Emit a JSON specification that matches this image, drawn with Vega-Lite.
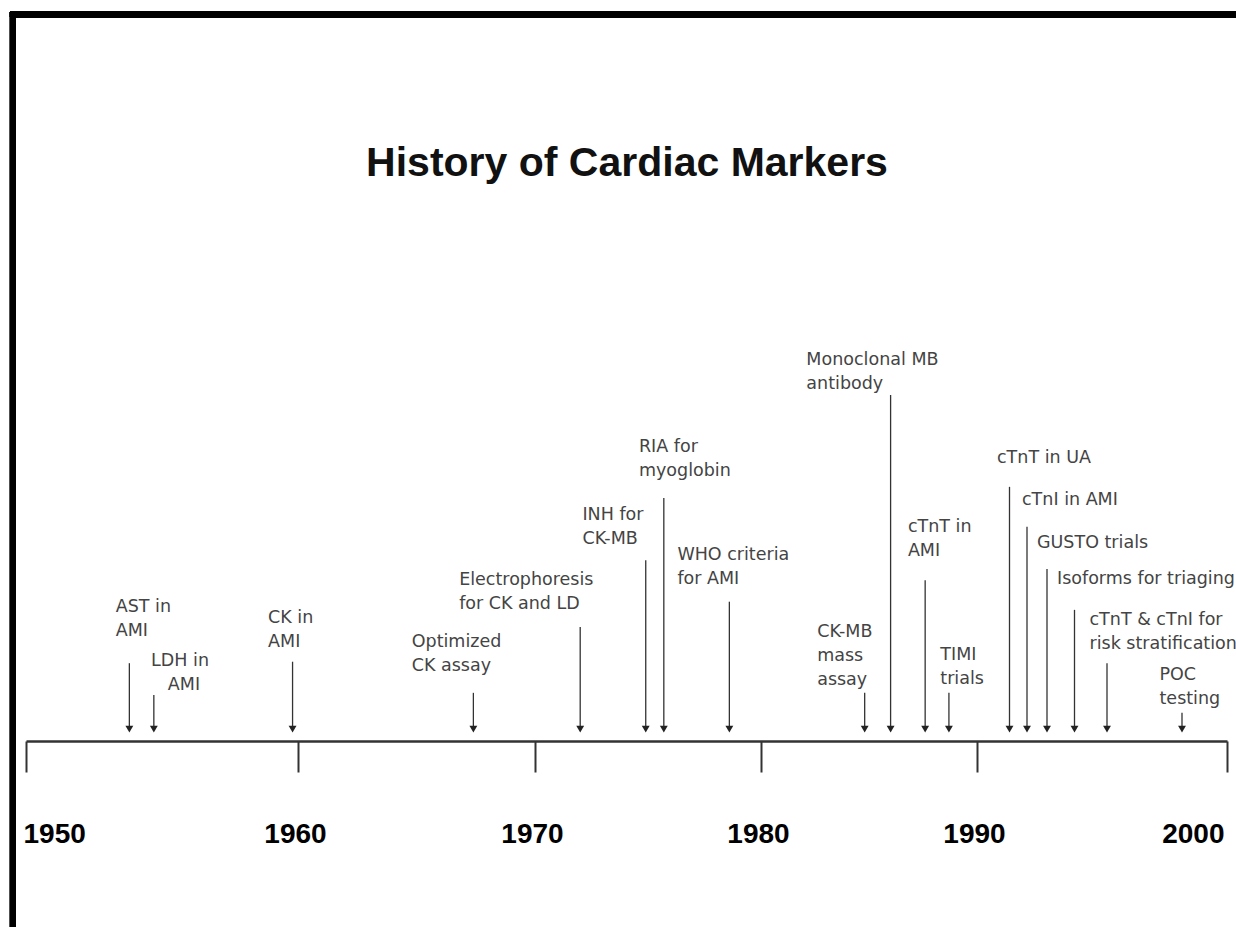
{
  "$schema": "https://vega.github.io/schema/vega-lite/v6.json",
  "width": 1236,
  "height": 741,
  "autosize": {"type": "none"},
  "padding": {"left": 0, "top": 0, "right": 0, "bottom": 186},
  "background": "white",
  "config": {
    "view": {"stroke": null},
    "axisX": {
      "grid": false,
      "title": null,
      "domainColor": "#333333",
      "domainWidth": 2.5,
      "tickColor": "#333333",
      "tickWidth": 2,
      "tickSize": 31,
      "labelFont": "Liberation Sans",
      "labelFontSize": 28,
      "labelFontWeight": "bold",
      "labelColor": "#000000",
      "labelPadding": 48,
      "labelFlush": true,
      "labelOffset": -3,
      "labelOverlap": false,
      "labelBound": false
    }
  },
  "title": {
    "text": "History of Cardiac Markers",
    "font": "Liberation Sans",
    "fontSize": 41,
    "fontWeight": "bold",
    "color": "#111111",
    "anchor": "middle",
    "baseline": "alphabetic",
    "offset": -217,
    "dx": 9
  },
  "data": {
    "values": [
      {"event": "AST in\nAMI", "year": 1953.8, "top": 10.5, "lx": 1953.3, "ly": 17.4},
      {"event": "LDH in\n\u200d\u00a0\u00a0\u00a0AMI", "year": 1954.7, "top": 6.2, "lx": 1954.6, "ly": 10.1},
      {"event": "CK in\nAMI", "year": 1959.8, "top": 10.7, "lx": 1958.9, "ly": 15.9},
      {"event": "Optimized\nCK assay", "year": 1967.4, "top": 6.5, "lx": 1964.8, "ly": 12.7},
      {"event": "Electrophoresis\nfor CK and LD", "year": 1972.0, "top": 15.4, "lx": 1966.8, "ly": 21.1},
      {"event": "INH for\nCK-MB", "year": 1974.9, "top": 24.4, "lx": 1972.1, "ly": 29.8},
      {"event": "RIA for\nmyoglobin", "year": 1975.7, "top": 32.8, "lx": 1974.6, "ly": 39.0},
      {"event": "WHO criteria\nfor AMI", "year": 1978.6, "top": 18.8, "lx": 1976.3, "ly": 24.4},
      {"event": "CK-MB\nmass\nassay", "year": 1984.8, "top": 6.5, "lx": 1982.6, "ly": 14.0},
      {"event": "Monoclonal MB\nantibody", "year": 1986.0, "top": 46.7, "lx": 1982.1, "ly": 50.7},
      {"event": "cTnT in\nAMI", "year": 1987.6, "top": 21.7, "lx": 1986.8, "ly": 28.2},
      {"event": "TIMI\ntrials", "year": 1988.7, "top": 6.5, "lx": 1988.3, "ly": 10.9},
      {"event": "cTnT in UA", "year": 1991.3, "top": 34.3, "lx": 1990.8, "ly": 37.5},
      {"event": "cTnI in AMI", "year": 1992.0, "top": 28.9, "lx": 1991.8, "ly": 31.8},
      {"event": "GUSTO trials", "year": 1992.8, "top": 23.2, "lx": 1992.4, "ly": 26.0},
      {"event": "Isoforms for triaging", "year": 1993.9, "top": 17.7, "lx": 1993.2, "ly": 21.2},
      {"event": "cTnT & cTnI for\nrisk stratification", "year": 1995.2, "top": 10.5, "lx": 1994.5, "ly": 15.7},
      {"event": "POC\ntesting", "year": 1998.2, "top": 3.8, "lx": 1997.3, "ly": 8.2}
    ]
  },
  "layer": [
    {
      "mark": {"type": "rule", "color": "#333333", "strokeWidth": 1.3},
      "encoding": {
        "x": {"field": "year", "type": "quantitative",
              "scale": {"type": "linear", "domain": [1950, 1960, 1970, 1980, 1990, 2000], "range": [26, 298, 535, 761, 977, 1227], "nice": false, "zero": false},
              "axis": {"values": [1950, 1960, 1970, 1980, 1990, 2000], "format": "d"}},
        "y": {"field": "top", "type": "quantitative",
              "scale": {"type": "linear", "domain": [0, 100], "nice": false, "zero": false}, "axis": null},
        "y2": {"datum": 2.0}
      }
    },
    {
      "mark": {"type": "point", "shape": "triangle-down", "filled": true, "color": "#222222", "size": 62, "opacity": 1},
      "encoding": {
        "x": {"field": "year", "type": "quantitative",
              "scale": {"type": "linear", "domain": [1950, 1960, 1970, 1980, 1990, 2000], "range": [26, 298, 535, 761, 977, 1227], "nice": false, "zero": false}},
        "y": {"datum": 1.6, "type": "quantitative",
              "scale": {"type": "linear", "domain": [0, 100], "nice": false, "zero": false}, "axis": null}
      }
    },
    {
      "mark": {"type": "text", "align": "left", "baseline": "alphabetic", "font": "DejaVu Sans", "fontSize": 17.5, "lineHeight": 24, "lineBreak": "\n", "color": "#444444"},
      "encoding": {
        "x": {"field": "lx", "type": "quantitative",
              "scale": {"type": "linear", "domain": [1950, 1960, 1970, 1980, 1990, 2000], "range": [26, 298, 535, 761, 977, 1227], "nice": false, "zero": false}},
        "y": {"field": "ly", "type": "quantitative",
              "scale": {"type": "linear", "domain": [0, 100], "nice": false, "zero": false}, "axis": null},
        "text": {"field": "event", "type": "nominal"}
      }
    },
    {
      "mark": {"type": "rule", "color": "#000000", "strokeWidth": 6, "strokeCap": "square"},
      "encoding": {
        "x": {"datum": 1949.52, "type": "quantitative",
              "scale": {"type": "linear", "domain": [1950, 1960, 1970, 1980, 1990, 2000], "range": [26, 298, 535, 761, 977, 1227], "nice": false, "zero": false}},
        "y": {"datum": 98.04, "type": "quantitative",
              "scale": {"type": "linear", "domain": [0, 100], "nice": false, "zero": false}, "axis": null},
        "y2": {"datum": -30}
      }
    },
    {
      "mark": {"type": "rule", "color": "#000000", "strokeWidth": 6, "strokeCap": "square"},
      "encoding": {
        "x": {"datum": 1949.52, "type": "quantitative",
              "scale": {"type": "linear", "domain": [1950, 1960, 1970, 1980, 1990, 2000], "range": [26, 298, 535, 761, 977, 1227], "nice": false, "zero": false}},
        "x2": {"datum": 2010},
        "y": {"datum": 98.04, "type": "quantitative",
              "scale": {"type": "linear", "domain": [0, 100], "nice": false, "zero": false}, "axis": null}
      }
    }
  ]
}
